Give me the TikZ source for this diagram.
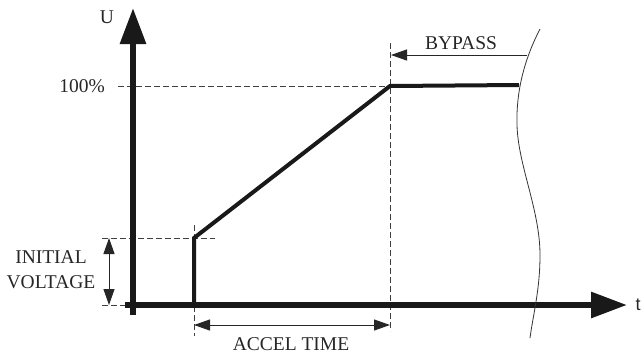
\documentclass[tikz,border=0pt]{standalone}
\usepackage{fontspec}
\setmainfont{Liberation Serif}
\newfontfamily\sansf{Liberation Sans}
\usetikzlibrary{arrows.meta}
\begin{document}
\begin{tikzpicture}[x=1pt,y=-1pt,
  axis/.style={line width=6pt,color=black!90,-{Triangle[length=36pt,width=25pt]}},
  curve/.style={line width=4pt,color=black!90,line join=miter},
  guide/.style={line width=0.8pt,color=black!75,dash pattern=on 6pt off 3pt},
  dim/.style={line width=1pt,color=black!85,{Triangle[length=16pt,width=11pt]}-{Triangle[length=16pt,width=11pt]}},
  dimone/.style={line width=1pt,color=black!85,-{Triangle[length=16pt,width=11pt]}},
  wave/.style={line width=0.8pt,color=black!80},
  lbl/.style={font=\fontsize{19.5}{25}\selectfont,text=black!85,inner sep=0pt}]
\useasboundingbox (0,0) rectangle (643,354);
% key points
\coordinate (Ybot) at (133,315);
\coordinate (Ytop) at (133,8);
\coordinate (Xl) at (125,305);
\coordinate (Xr) at (627,305);
\coordinate (S0) at (194,305);
\coordinate (S1) at (194,238);
\coordinate (S2) at (390,86);
\coordinate (S3) at (519,85);
% guide ends
\coordinate (G1a) at (118,86);
\coordinate (G2a) at (102,238);
\coordinate (G2b) at (215,238);
\coordinate (G3a) at (102,305);
\coordinate (G3b) at (125,305);
\coordinate (G4a) at (194,225);
\coordinate (G4b) at (194,336);
\coordinate (G5a) at (390,43);
\coordinate (G5b) at (390,331);
% dimension ends
\coordinate (IVa) at (109,238);
\coordinate (IVb) at (109,305);
\coordinate (ATa) at (194,325);
\coordinate (ATb) at (390,325);
\coordinate (BPa) at (527,55);
\coordinate (BPb) at (391,55);
% guides
\draw[guide] (G1a) -- (S2);
\draw[guide] (G2a) -- (G2b);
\draw[guide] (G3a) -- (G3b);
\draw[guide] (G4a) -- (G4b);
\draw[guide] (G5a) -- (G5b);
% axes
\draw[axis] (Ybot) -- (Ytop);
\draw[axis] (Xl) -- (Xr);
% curve
\draw[curve] (S0) -- (S1) -- (S2) -- (S3);
% dimensions
\draw[dim] (IVa) -- (IVb);
\draw[dim] (ATa) -- (ATb);
\draw[dimone] (BPa) -- (BPb);
% break line
\draw[wave] (540,29) .. controls (525,58) and (516,90) .. (517,125)
  .. controls (518,165) and (540,210) .. (540,255)
  .. controls (540,290) and (533,315) .. (530,338);
% labels
\node[lbl] (u) at (107,17) {U};
\node[lbl] (p100) at (82,86) {100\%};
\node[lbl,align=center] (iv) at (51,270) {INITIAL\\VOLTAGE};
\node[lbl] (bp) at (461,43) {BYPASS};
\node[lbl] (at) at (291,344.5) {ACCEL TIME};
\node[lbl,font=\sansf\fontsize{18}{22}\selectfont] (t) at (638,305) {t};
\end{tikzpicture}
\end{document}
